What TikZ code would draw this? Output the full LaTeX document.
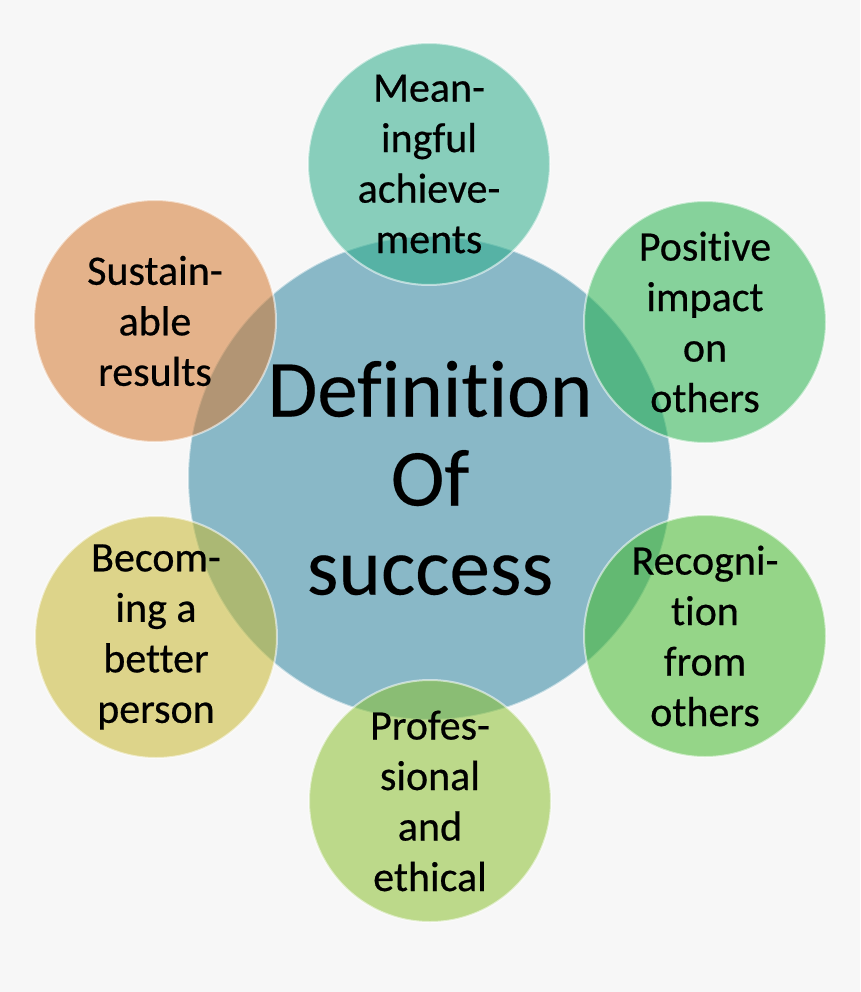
\documentclass[tikz,border=0pt]{standalone}
\usepackage{fontspec}
\setmainfont[Ligatures=CommonOff, FakeBold=0.5]{Carlito}
\newfontfamily\heavyfont[Ligatures=CommonOff, FakeBold=0.5]{Carlito}
\definecolor{bgc}{RGB}{247,247,247}
\definecolor{cblue}{RGB}{137,184,199}
\definecolor{cteal}{RGB}{45,174,138}
\definecolor{cgreenA}{RGB}{42,180,80}
\definecolor{cgreenB}{RGB}{69,186,45}
\definecolor{clime}{RGB}{140,194,49}
\definecolor{cyell}{RGB}{200,185,49}
\definecolor{corng}{RGB}{213,122,49}
\tikzset{
  bubble/.style={circle, minimum size=242pt, inner sep=0pt, align=center,
    fill opacity=0.55, text opacity=1, draw=white, draw opacity=0.55, line width=2pt,
    font=\heavyfont\fontsize{42}{50.5}\selectfont, text=black},
  hub/.style={circle, minimum size=484pt, inner sep=0pt, align=center,
    fill=cblue, draw=white, draw opacity=0.55, line width=2pt,
    font=\heavyfont\fontsize{81}{89}\selectfont, text=black}
}
\begin{document}
\begin{tikzpicture}[x=1pt,y=-1pt]
\fill[bgc] (0,0) rectangle (860,992);
\useasboundingbox (0,0) rectangle (860,992);
\node[hub] (hub) at (430,478) {Definition\\Of\\success};
\node[bubble, fill=cteal] (top) at (429,164) {Mean-\\ingful\\achieve-\\ments};
\node[bubble, fill=cgreenA] (rt) at (705,322) {Positive\\impact\\on\\others};
\node[bubble, fill=cgreenB] (rb) at (705,636) {Recogni-\\tion\\from\\others};
\node[bubble, fill=clime] (bot) at (430,801) {Profes-\\sional\\and\\ethical};
\node[bubble, fill=cyell] (lb) at (156,637) {Becom-\\ing a\\better\\person};
\node[bubble, fill=corng] (lt) at (155,321) {Sustain-\\able\\results};
\end{tikzpicture}
\end{document}
